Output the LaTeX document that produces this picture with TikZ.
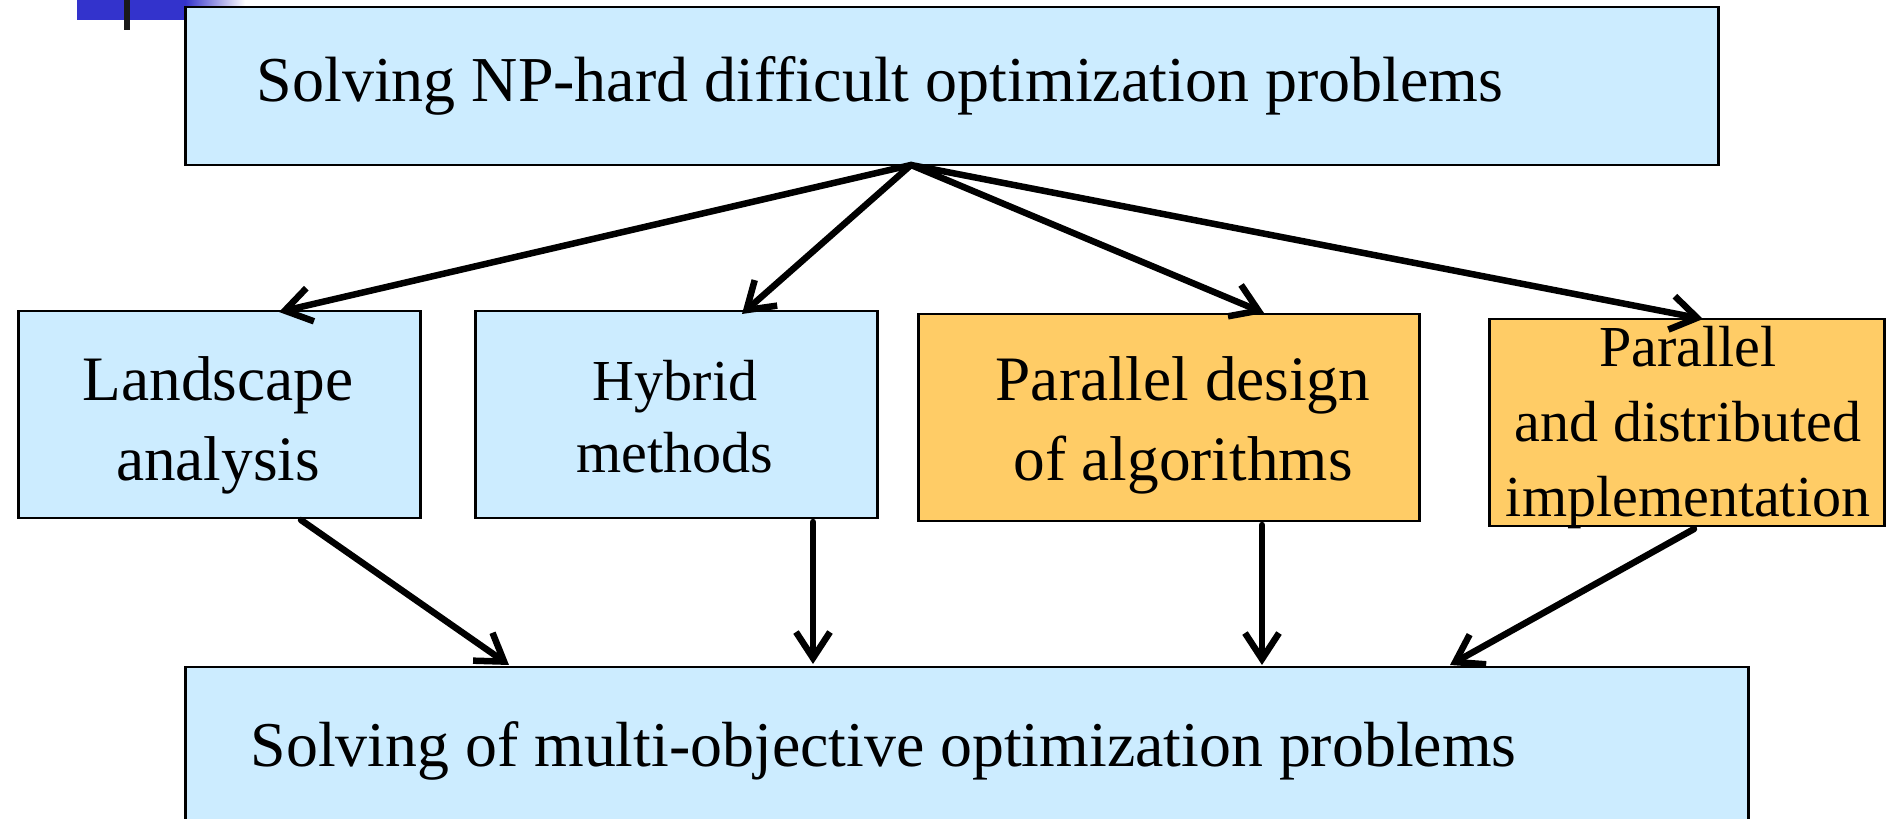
\documentclass[tikz,border=0pt]{standalone}
\usepackage{fontspec}
\setmainfont{Liberation Serif}
\usetikzlibrary{arrows.meta,calc}
\definecolor{lblue}{HTML}{CCECFF}
\definecolor{lorange}{HTML}{FFCC66}
\definecolor{dblue}{HTML}{3333CC}
\begin{document}
\begin{tikzpicture}[x=0.01cm,y=-0.01cm,
  box/.style={draw=black,line width=0.25mm,inner sep=0pt,anchor=north west},
  bluebox/.style={box,fill=lblue},
  orangebox/.style={box,fill=lorange},
  txt/.style={inner sep=0pt,align=center,anchor=base},
  conn/.style={line width=0.65mm,line cap=round,-{Straight Barb[length=2.6mm,width=3.4mm,line width=0.65mm]}}]
\clip (0,0) rectangle (1887,819);
\useasboundingbox (0,0) rectangle (1887,819);
% decoration top-left
\fill[dblue] (77,0) rectangle (186,20);
\shade[left color=dblue,right color=white] (185,0) rectangle (245,20);
\fill[black!90] (124,0) rectangle (130,30);
% boxes
\node[bluebox,minimum width=1533*0.01cm,minimum height=158*0.01cm] (top) at (184,6) {};
\node[bluebox,minimum width=402*0.01cm,minimum height=207*0.01cm] (la) at (17,310) {};
\node[bluebox,minimum width=402*0.01cm,minimum height=207*0.01cm] (hy) at (474,310) {};
\node[orangebox,minimum width=501*0.01cm,minimum height=207*0.01cm] (pd) at (917,313) {};
\node[orangebox,minimum width=395*0.01cm,minimum height=207*0.01cm] (pi) at (1488,318) {};
\node[bluebox,minimum width=1563*0.01cm,minimum height=180*0.01cm] (bot) at (184,666) {};
% texts
\node[txt,anchor=base west,font=\fontsize{18.2}{22}\selectfont] (toptxt) at (256,102) {Solving NP-hard difficult optimization problems};
\node[txt,font=\fontsize{18}{22.8}\selectfont] (latxt) at (218,481) {Landscape\\analysis};
\node[txt,font=\fontsize{16.5}{20.5}\selectfont] (hytxt) at (675,473) {Hybrid\\methods};
\node[txt,font=\fontsize{18}{22.8}\selectfont] (pdtxt) at (1183,481) {Parallel design\\of algorithms};
\node[txt,font=\fontsize{16.5}{21.4}\selectfont] (pitxt) at (1688,517) {Parallel\\and distributed\\implementation};
\node[txt,anchor=base west,font=\fontsize{18.15}{22}\selectfont] (bottxt) at (250,767) {Solving of multi-objective optimization problems};
% connector end points
\coordinate (s) at (911,165);
\coordinate (t1) at (279,312);
\coordinate (t2) at (742,314);
\coordinate (t3) at (1264,313);
\coordinate (t4) at (1703,319);
\coordinate (u1) at (301,520);
\coordinate (u2) at (813,522);
\coordinate (u3) at (1262,525);
\coordinate (u4) at (1694,529);
\coordinate (v1) at (509,665);
\coordinate (v2) at (813,664);
\coordinate (v3) at (1262,665);
\coordinate (v4) at (1450,665);
\draw[conn] (s) -- (t1);
\draw[conn] (s) -- (t2);
\draw[conn] (s) -- (t3);
\draw[conn] (s) -- (t4);
\draw[conn] (u1) -- (v1);
\draw[conn] (u2) -- (v2);
\draw[conn] (u3) -- (v3);
\draw[conn] (u4) -- (v4);
\end{tikzpicture}
\end{document}
